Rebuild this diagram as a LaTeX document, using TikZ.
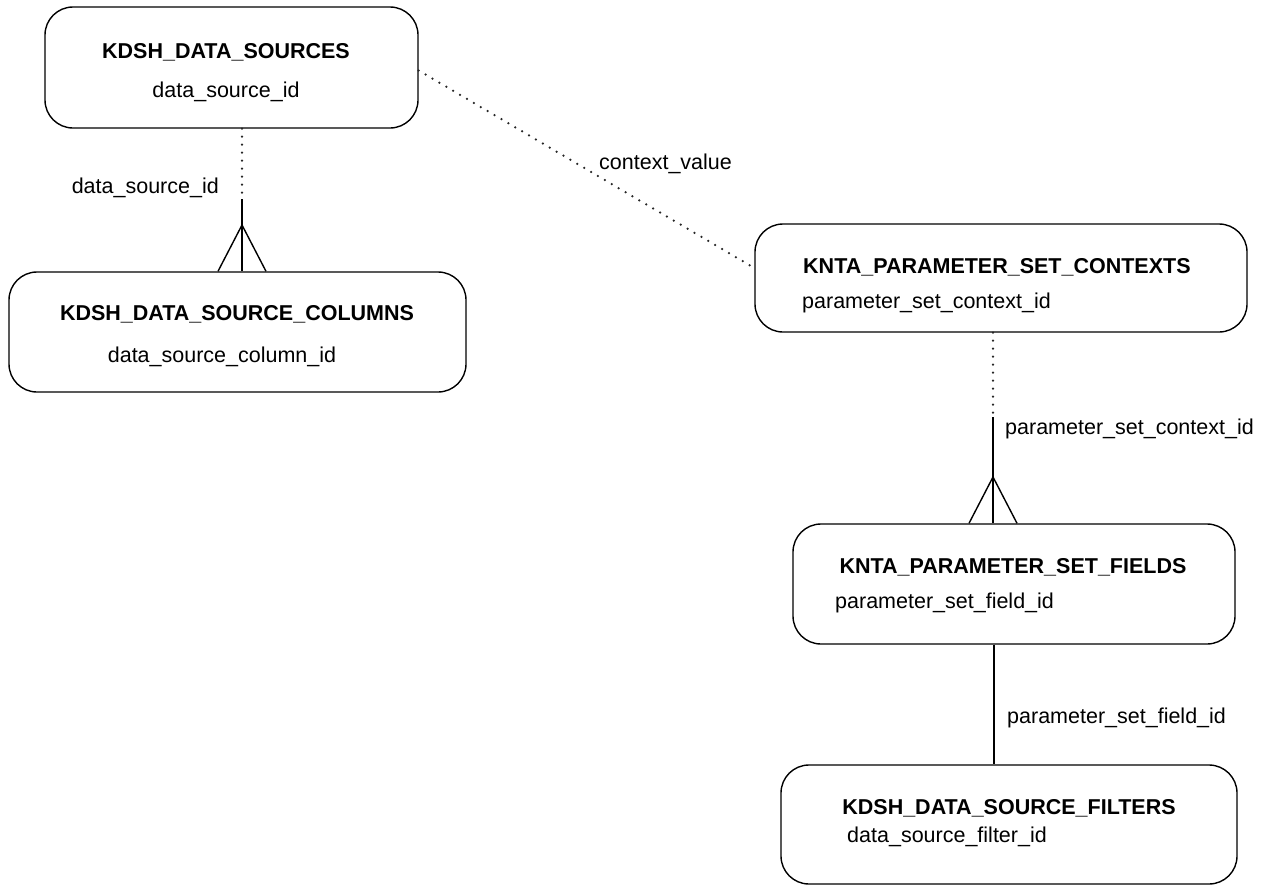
\documentclass[tikz,border=0pt]{standalone}
\usepackage{fontspec}
\setmainfont{Liberation Sans}
\begin{document}
\begin{tikzpicture}[x=1pt,y=1pt]
            \tikzstyle{every node}+=[inner sep=0pt, font=\fontsize{21.5}{25}\selectfont]
            \tikzstyle{table}=[draw=black, line width=1.4pt, rounded corners=28pt]
            \tikzstyle{title}=[font=\fontsize{21.5}{25}\selectfont\bfseries]
            \tikzstyle{rel}=[black, line width=1.4pt]
            \tikzstyle{optrel}=[black!85, line width=2.5pt, line cap=round, dash pattern=on 0pt off 8pt]
            \useasboundingbox (0,0) rectangle (1266,-886);
            \node [table, minimum width=373pt, minimum height=121pt] (dsrc) at (231.5,-67.5) {};
            \node [title, anchor=base] (dsrct) at (226,-58) {KDSH\_DATA\_SOURCES};
            \node [anchor=base] (dsrck) at (226,-97) {data\_source\_id};
            \node [table, minimum width=457pt, minimum height=120pt] (dscol) at (237.5,-332) {};
            \node [title, anchor=base] (dscolt) at (237,-320) {KDSH\_DATA\_SOURCE\_COLUMNS};
            \node [anchor=base] (dscolk) at (222,-362) {data\_source\_column\_id};
            \node [table, minimum width=492pt, minimum height=108pt] (psctx) at (1001,-278) {};
            \node [title, anchor=base west] (psctxt) at (803,-273) {KNTA\_PARAMETER\_SET\_CONTEXTS};
            \node [anchor=base west] (psctxk) at (802,-308) {parameter\_set\_context\_id};
            \node [table, minimum width=442pt, minimum height=120pt] (psfld) at (1014,-584) {};
            \node [title, anchor=base] (psfldt) at (1013,-573) {KNTA\_PARAMETER\_SET\_FIELDS};
            \node [anchor=base west] (psfldk) at (835,-608) {parameter\_set\_field\_id};
            \node [table, minimum width=456pt, minimum height=119pt] (dsflt) at (1009,-824.5) {};
            \node [title, anchor=base] (dsfltt) at (1009,-814) {KDSH\_DATA\_SOURCE\_FILTERS};
            \node [anchor=base west] (dsfltk) at (847,-842) {data\_source\_filter\_id};
            \coordinate (srccol) at (242,-197);
            \coordinate (srccolx) at (242,-225);
            \draw [optrel] (dsrc.south -| srccol) -- (srccol);
            \draw [rel] ([yshift=-2pt]srccol) -- (dscol.north -| srccol);
            \draw [rel] ([xshift=-24pt]srccolx |- dscol.north) -- (srccolx) -- ([xshift=24pt]srccolx |- dscol.north);
            \node [anchor=base east] (srccoll) at (219,-193) {data\_source\_id};
            \draw [optrel, shorten >=4pt] ([yshift=-3pt]dsrc.east) -- ([yshift=10pt]psctx.west);
            \node [anchor=base west] (srcctxl) at (599,-169) {context\_value};
            \coordinate (ctxfld) at (993,-415);
            \coordinate (ctxfldx) at (993,-477);
            \draw [optrel] (psctx.south -| ctxfld) -- (ctxfld);
            \draw [rel] ([yshift=-2pt]ctxfld) -- (psfld.north -| ctxfld);
            \draw [rel] ([xshift=-24pt]ctxfldx |- psfld.north) -- (ctxfldx) -- ([xshift=24pt]ctxfldx |- psfld.north);
            \node [anchor=base west] (ctxfldl) at (1005,-434) {parameter\_set\_context\_id};
            \coordinate (fldflt) at (994,-700);
            \draw [rel] (psfld.south -| fldflt) -- (dsflt.north -| fldflt);
            \node [anchor=base west] (fldfltl) at (1007,-723) {parameter\_set\_field\_id};
        \end{tikzpicture}
\end{document}
